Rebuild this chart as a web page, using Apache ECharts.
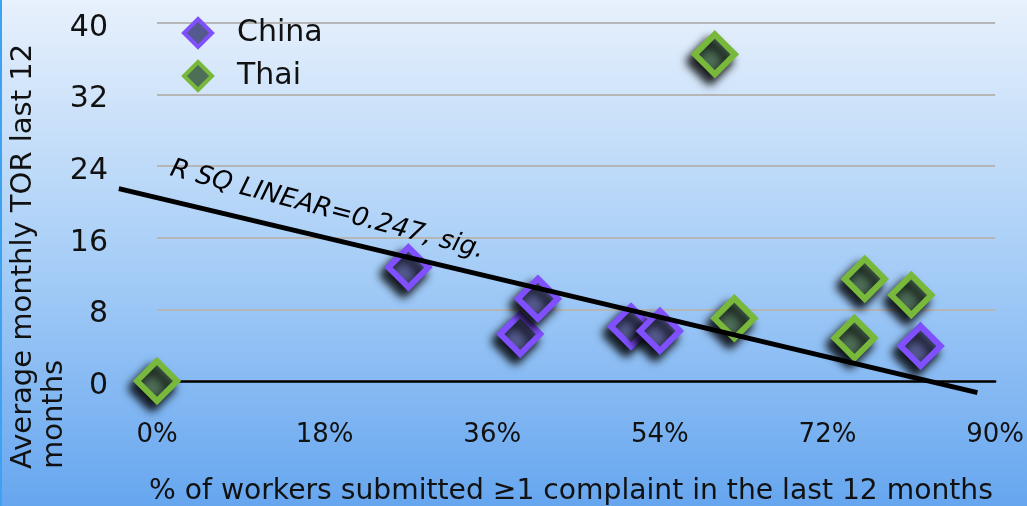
<!DOCTYPE html>
<html>
<head>
<meta charset="utf-8">
<script src="https://cdn.jsdelivr.net/npm/echarts@6/dist/echarts.min.js"></script>
<style>
html,body{margin:0;padding:0;}
#c{width:1027px;height:506px;}
</style>
</head>
<body>
<div id="c"></div>
<script>
// Data
const chinaX = [27.0, 39.0, 40.9, 50.9, 54.0, 82.0];
const chinaY = [12.7, 5.25, 9.2, 6.1, 5.6, 3.9];
const thaiX = [0, 59.9, 62.0, 76.0, 74.9, 81.0];
const thaiY = [0, 36.5, 7.0, 11.4, 4.8, 9.6];
const trendX = [-4.1, 88.1];
const trendY = [21.5, -1.3];
const xTicks = [0, 18, 36, 54, 72, 90];
const yTicks = [0, 8, 16, 24, 32, 40];
const seriesNames = ['China', 'Thai'];
const trendLabel = 'R SQ LINEAR=0.247, sig.';
const xTitle = '% of workers submitted \u22651 complaint in the last 12 months';
const yTitle = 'Average monthly TOR last 12\nmonths';

const FONT = "'DejaVu Sans', Verdana, sans-serif";
const zip = (a, b) => a.map((v, i) => [v, b[i]]);

const chart = echarts.init(document.getElementById('c'));
const markerShadow = {shadowColor: 'rgba(0,0,0,0.95)', shadowBlur: 10, shadowOffsetX: -5, shadowOffsetY: 7};

chart.setOption({
  animation: false,
  backgroundColor: {
    type: 'linear', x: 0, y: 0, x2: 0, y2: 1,
    colorStops: [
      {offset: 0, color: '#e8f1fc'},
      {offset: 0.5, color: '#a9cff7'},
      {offset: 1, color: '#66a6ef'}
    ]
  },
  grid: {left: 157, right: 27, top: 23, bottom: 125},
  legend: {
    orient: 'vertical', left: 177, top: 11, itemGap: 9,
    itemWidth: 28, itemHeight: 28,
    textStyle: {fontFamily: FONT, fontSize: 30, lineHeight: 34, color: '#111', padding: [0, 0, 0, 20]},
    data: [
      {name: 'China', itemStyle: {color: '#545a8e', borderColor: '#8050ff', borderWidth: 4, shadowBlur: 0, shadowOffsetX: 0, shadowOffsetY: 0}},
      {name: 'Thai', itemStyle: {color: '#4e6e58', borderColor: '#78b83a', borderWidth: 4, shadowBlur: 0, shadowOffsetX: 0, shadowOffsetY: 0}}
    ]
  },
  xAxis: {
    type: 'value', min: xTicks[0], max: xTicks[xTicks.length - 1], interval: 18,
    axisLine: {show: true, onZero: true, lineStyle: {color: '#000', width: 2.5}},
    axisTick: {show: false},
    splitLine: {show: false},
    axisLabel: {formatter: '{value}%', fontFamily: FONT, fontSize: 26, color: '#111', margin: 41}
  },
  yAxis: {
    type: 'value', min: yTicks[0], max: yTicks[yTicks.length - 1], interval: 8,
    axisLine: {show: false},
    axisTick: {show: false},
    splitLine: {show: true, lineStyle: {color: '#b6b6b6', width: 2}},
    axisLabel: {
      formatter: '{t|{value}}', margin: 49,
      rich: {t: {fontFamily: FONT, fontSize: 30, color: '#111', padding: [10, 0, 0, 0]}}
    }
  },
  series: [
    {
      name: seriesNames[0], type: 'scatter', symbol: 'diamond', symbolSize: 40, z: 3,
      itemStyle: Object.assign({color: '#545a8e', borderColor: '#8050ff', borderWidth: 6, opacity: 1}, markerShadow),
      data: zip(chinaX, chinaY)
    },
    {
      name: seriesNames[1], type: 'scatter', symbol: 'diamond', symbolSize: 40, z: 3,
      itemStyle: Object.assign({color: '#4e6e58', borderColor: '#78b83a', borderWidth: 6, opacity: 1}, markerShadow),
      data: zip(thaiX, thaiY)
    },
    {
      name: 'trend', type: 'custom', z: 5, silent: true, clip: false,
      data: [[trendX[0], trendY[0]]],
      renderItem: function (params, api) {
        const pts = trendX.map((x, i) => api.coord([x, trendY[i]]));
        return {
          type: 'polyline',
          shape: {points: pts},
          style: {stroke: '#000', lineWidth: 5, fill: null}
        };
      }
    }
  ],
  graphic: [
    {type: 'rect', left: 0, top: 0, z: 10, shape: {width: 2, height: 506}, style: {fill: '#3ea2f2'}},
    {
      type: 'text', x: 174, y: 156, rotation: -14.8 * Math.PI / 180, z: 10,
      style: {text: trendLabel, fontFamily: FONT, fontStyle: 'italic', fontSize: 26, fill: '#000', align: 'left', verticalAlign: 'top'}
    },
    {
      type: 'text', x: 571, y: 492, z: 10,
      style: {text: xTitle, fontFamily: FONT, fontSize: 28.2, fill: '#111', align: 'center', verticalAlign: 'middle'}
    },
    {
      type: 'text', x: 8, y: 469, rotation: Math.PI / 2, z: 10,
      style: {text: yTitle, fontFamily: FONT, fontSize: 29, lineHeight: 31, fill: '#111', align: 'left', verticalAlign: 'top'}
    }
  ]
});
</script>
</body>
</html>
